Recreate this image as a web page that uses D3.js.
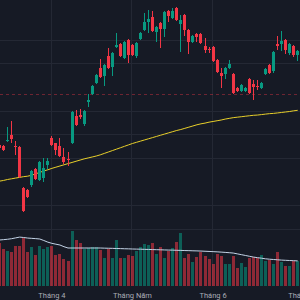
<!DOCTYPE html>
<html>
<head>
<meta charset="utf-8">
<script src="https://cdn.jsdelivr.net/npm/d3@7"></script>
<style>
  html, body { margin: 0; padding: 0; background: #161a25; overflow: hidden; }
  svg { display: block; }
</style>
</head>
<body>
<div id="chart"></div>
<script>
// ---- data (bar index -1 is the partly hidden first bar) ----
const barIndex = d3.range(-1, 74);

const open = [23.55,
  23.50, 23.72, 23.97, 23.50, 23.46, 21.73, 21.65, 21.86, 22.53, 22.07,
  22.15, 22.70, 23.84, 23.63, 23.50, 23.04, 22.96, 23.63, 24.77, 24.81,
  24.43, 25.36, 25.70, 26.16, 26.80, 26.46, 27.30, 26.84, 27.68, 27.81,
  27.22, 27.98, 27.77, 27.30, 28.02, 28.40, 28.74, 28.95, 28.32, 28.70,
  28.44, 29.20, 28.91, 29.33, 28.65, 29.03, 28.40, 27.89, 28.23, 28.23,
  27.73, 27.60, 27.68, 27.13, 26.59, 26.54, 26.80, 26.54, 25.95, 25.83,
  25.83, 26.33, 26.12, 26.04, 25.95, 26.54, 26.92, 26.67, 27.81, 27.81,
  27.98, 27.43, 27.73, 27.35];

const high = [23.60,
  23.55, 24.31, 24.56, 23.72, 23.50, 21.77, 21.69, 22.49, 22.58, 22.87,
  23.00, 23.00, 23.93, 23.63, 23.84, 23.42, 23.25, 24.98, 25.02, 25.07,
  25.02, 25.70, 26.08, 26.54, 27.18, 26.97, 27.64, 27.47, 28.27, 27.85,
  27.94, 28.02, 27.81, 27.89, 28.32, 29.12, 29.25, 29.20, 28.57, 28.74,
  29.20, 29.25, 29.33, 29.37, 29.03, 29.08, 28.44, 28.19, 28.27, 28.27,
  28.06, 27.68, 27.73, 27.18, 26.80, 26.84, 27.13, 26.59, 25.99, 26.12,
  25.99, 26.37, 26.29, 26.29, 26.21, 26.80, 26.97, 27.51, 28.15, 28.36,
  28.02, 27.85, 27.77, 27.56];

const low = [23.25,
  23.29, 23.67, 23.63, 23.12, 22.15, 20.72, 21.31, 21.77, 22.07, 22.03,
  21.98, 22.53, 23.50, 23.12, 23.04, 22.74, 22.66, 23.59, 24.35, 24.64,
  24.35, 25.15, 25.66, 26.12, 26.37, 26.04, 26.75, 26.46, 27.64, 27.26,
  27.18, 27.01, 27.30, 27.22, 27.98, 28.36, 28.27, 28.32, 27.89, 27.64,
  28.11, 28.74, 28.87, 28.78, 27.47, 28.15, 27.39, 27.85, 27.89, 27.81,
  27.43, 27.43, 27.05, 26.59, 25.95, 26.33, 26.75, 25.70, 25.78, 25.78,
  25.78, 25.70, 25.45, 25.87, 25.91, 26.50, 26.54, 26.59, 27.56, 27.51,
  27.39, 27.35, 27.26, 27.09];

const close = [23.40,
  23.34, 23.76, 23.80, 23.46, 22.20, 20.76, 21.35, 22.45, 22.11, 22.83,
  22.58, 22.87, 23.55, 23.34, 23.08, 22.83, 22.91, 24.94, 24.39, 24.73,
  24.98, 25.45, 26.04, 26.50, 26.42, 26.92, 26.80, 27.43, 27.77, 27.30,
  27.89, 27.35, 27.35, 27.85, 28.27, 28.74, 28.87, 28.36, 28.53, 28.44,
  29.16, 28.99, 29.20, 28.82, 28.82, 28.40, 27.89, 28.15, 28.11, 27.85,
  27.56, 27.56, 27.09, 26.63, 26.46, 26.80, 26.97, 25.74, 25.83, 26.08,
  25.95, 25.74, 25.99, 25.99, 26.16, 26.75, 26.59, 27.47, 27.73, 27.94,
  27.56, 27.81, 27.35, 27.51];

// long moving average (yellow)
const priceMA = [22.02,
  22.05, 22.09, 22.12, 22.15, 22.18, 22.21, 22.23, 22.27, 22.33, 22.39,
  22.45, 22.50, 22.56, 22.61, 22.66, 22.71, 22.76, 22.81, 22.86, 22.91,
  22.96, 23.00, 23.04, 23.08, 23.13, 23.19, 23.25, 23.31, 23.37, 23.43,
  23.49, 23.55, 23.61, 23.66, 23.71, 23.76, 23.81, 23.86, 23.91, 23.96,
  24.01, 24.06, 24.11, 24.16, 24.20, 24.25, 24.30, 24.35, 24.40, 24.44,
  24.47, 24.51, 24.54, 24.57, 24.60, 24.64, 24.67, 24.70, 24.72, 24.74,
  24.76, 24.78, 24.80, 24.81, 24.83, 24.85, 24.87, 24.88, 24.90, 24.92,
  24.94, 24.96, 24.99, 25.01];

// volume, millions
const volume = [8.6,
  7.4, 7.0, 6.8, 8.0, 8.0, 9.6, 6.8, 7.8, 6.2, 8.0,
  7.4, 7.8, 8.0, 6.2, 6.4, 5.4, 5.0, 11.0, 9.2, 8.6,
  7.4, 7.6, 7.8, 7.8, 7.2, 5.6, 7.4, 5.6, 9.2, 5.6,
  5.6, 6.2, 6.0, 7.0, 7.8, 8.4, 8.2, 8.6, 6.4, 7.8,
  5.6, 7.0, 7.6, 8.8, 10.6, 5.6, 6.4, 4.8, 5.8, 6.8,
  6.0, 5.4, 4.4, 6.4, 6.0, 4.4, 4.4, 6.0, 3.6, 4.6,
  3.8, 5.6, 5.8, 5.6, 6.2, 5.0, 5.2, 4.4, 6.8, 4.8,
  4.0, 4.0, 5.0, 5.0];

const volumeMA = [9.20,
  9.27, 9.35, 9.46, 9.62, 9.78, 9.70, 9.59, 9.53, 9.47, 9.40,
  9.10, 8.77, 8.53, 8.36, 8.20, 7.86, 7.60, 7.60, 7.60, 7.60,
  7.60, 7.60, 7.60, 7.60, 7.60, 7.57, 7.55, 7.53, 7.50, 7.48,
  7.45, 7.43, 7.40, 7.38, 7.36, 7.33, 7.31, 7.28, 7.26, 7.24,
  7.21, 7.19, 7.17, 7.14, 7.12, 7.09, 7.07, 7.04, 7.02, 6.99,
  6.95, 6.91, 6.87, 6.83, 6.78, 6.72, 6.66, 6.59, 6.43, 6.27,
  6.11, 5.95, 5.79, 5.67, 5.56, 5.44, 5.36, 5.30, 5.24, 5.18,
  5.14, 5.10, 5.06, 5.02];

const priceGrid = [20, 21, 23, 24, 25, 27, 28];
const refPrice = 25.70;

const monthIndex = [12, 32, 52, 74];
const monthLabel = ["Tháng 4", "Tháng Năm", "Tháng 6", "Tháng 7"];

// ---- build ----
const width = 300, height = 300;
const upColor = "#089981", downColor = "#f23645";

const bars = barIndex.map((d, k) => ({
  i: d, o: open[k], h: high[k], l: low[k], c: close[k],
  v: volume[k], ma: priceMA[k], vma: volumeMA[k]
}));

const x = d3.scaleLinear().domain([-1, 73]).range([-0.5, 297.7]);
const y = d3.scaleLinear().domain([20, 28]).range([229, 39.5]);
const yv = d3.scaleLinear().domain([0, 16]).range([286, 206]);

const svg = d3.select("#chart").append("svg")
  .attr("width", width)
  .attr("height", height);

svg.append("rect")
  .attr("width", width).attr("height", height)
  .attr("fill", "#161a25");

// grid
svg.append("g").selectAll("line")
  .data(priceGrid)
  .enter().append("line")
  .attr("x1", 0).attr("x2", width)
  .attr("y1", d => Math.round(y(d)) + 0.5)
  .attr("y2", d => Math.round(y(d)) + 0.5)
  .attr("stroke", "#242834")
  .attr("stroke-width", 1);

svg.append("g").selectAll("line")
  .data(monthIndex)
  .enter().append("line")
  .attr("x1", d => Math.round(x(d)) - 0.5)
  .attr("x2", d => Math.round(x(d)) - 0.5)
  .attr("y1", 0).attr("y2", 286)
  .attr("stroke", "#242834")
  .attr("stroke-width", 1);

// volume bars
const left = d => Math.round(x(d.i) - 1.5);

svg.append("g").selectAll("rect")
  .data(bars)
  .enter().append("rect")
  .attr("x", left)
  .attr("width", 3)
  .attr("y", d => Math.round(yv(d.v)))
  .attr("height", d => 286 - Math.round(yv(d.v)))
  .attr("fill", d => d.c >= d.o ? upColor : downColor)
  .attr("fill-opacity", 0.55);

// volume MA
svg.append("path")
  .datum(bars)
  .attr("fill", "none")
  .attr("stroke", "#c3d3e6")
  .attr("stroke-width", 1)
  .attr("d", d3.line().x(d => x(d.i)).y(d => yv(d.vma)));

// dashed reference price line
svg.append("line")
  .attr("x1", 0).attr("x2", width)
  .attr("y1", Math.round(y(refPrice)) + 0.5)
  .attr("y2", Math.round(y(refPrice)) + 0.5)
  .attr("stroke", "#f23645")
  .attr("stroke-opacity", 0.4)
  .attr("stroke-dasharray", "3,3");

// yellow MA
svg.append("path")
  .datum(bars)
  .attr("fill", "none")
  .attr("stroke", "#e8cf2a")
  .attr("stroke-width", 1)
  .attr("d", d3.line().x(d => x(d.i)).y(d => y(d.ma)));

// candles
const candle = svg.append("g").selectAll("g")
  .data(bars)
  .enter().append("g")
  .attr("fill", d => d.c >= d.o ? upColor : downColor);

candle.append("rect")
  .attr("x", d => left(d) + 1)
  .attr("width", 1)
  .attr("y", d => Math.round(y(d.h)))
  .attr("height", d => Math.max(1, Math.round(y(d.l)) - Math.round(y(d.h))));

candle.append("rect")
  .attr("x", left)
  .attr("width", 3)
  .attr("y", d => Math.round(y(Math.max(d.o, d.c))))
  .attr("height", d => Math.max(1, Math.round(y(Math.min(d.o, d.c))) - Math.round(y(Math.max(d.o, d.c)))));

// month labels
svg.append("g").selectAll("text")
  .data(monthIndex)
  .enter().append("text")
  .attr("x", d => x(d))
  .attr("y", 297.5)
  .attr("text-anchor", "middle")
  .attr("font-family", "Roboto, 'Noto Sans', sans-serif")
  .attr("font-size", "7.5px")
  .attr("fill", "#a9acb5")
  .text((d, k) => monthLabel[k]);
</script>
</body>
</html>
